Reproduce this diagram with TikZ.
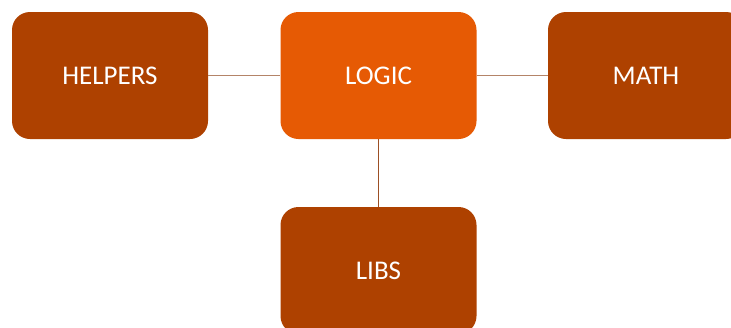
\documentclass[tikz,border=0pt]{standalone}
\usepackage{fontspec}
\setmainfont{Carlito}
\definecolor{boxdark}{HTML}{AE4100}
\definecolor{boxlight}{HTML}{E65A04}
\definecolor{linklight}{HTML}{B48468}
\definecolor{linkdark}{HTML}{9C4F24}
\begin{document}
\begin{tikzpicture}[x=1pt,y=-1pt,
  card/.style={rectangle, rounded corners=18pt, minimum width=196pt, minimum height=127pt,
    inner sep=0pt, text=white, font=\fontsize{27}{32}\selectfont},
  link/.style={line width=1.2pt}]
  \useasboundingbox (0,0) rectangle (731,327);
  \clip (0,0) rectangle (731,327);
  \fill[white] (0,0) rectangle (731,327);
  \node[card, fill=boxdark]  (helpers) at (110,75.5) {HELPERS};
  \node[card, fill=boxlight] (logic)   at (378.5,75.5) {LOGIC};
  \node[card, fill=boxdark]  (math)    at (646,75.5) {MATH};
  \node[card, fill=boxdark]  (libs)    at (378.5,270.5) {LIBS};
  \draw[link, linklight] (helpers.east) -- (logic.west);
  \draw[link, linklight] (logic.east) -- (math.west);
  \draw[link, linkdark] (logic.south) -- (libs.north);
\end{tikzpicture}
\end{document}
